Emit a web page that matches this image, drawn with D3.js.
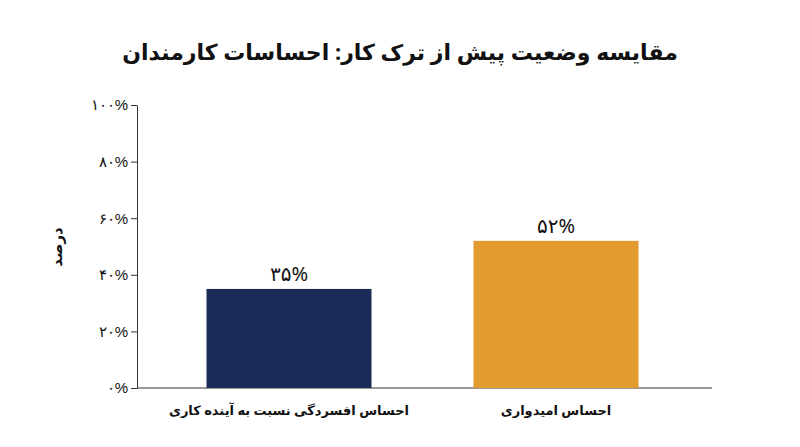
<!DOCTYPE html>
<html><head><meta charset="utf-8">
<script src="https://cdn.jsdelivr.net/npm/d3@7"></script>
<style>body{margin:0;background:#fff}svg{font-family:"Noto Sans","DejaVu Sans",sans-serif}</style>
</head><body><svg id="c" width="800" height="447"></svg>
<script>
const categories = ["احساس افسردگی نسبت به آینده کاری", "احساس امیدواری"];
const values = [35, 52];
const valueLabels = ["۳۵%", "۵۲%"];
const colors = ["#1b2b58", "#e19b2f"];
const tickValues = [0, 20, 40, 60, 80, 100];
const tickLabels = ["۰%", "۲۰%", "۴۰%", "۶۰%", "۸۰%", "۱۰۰%"];
const title = "مقایسه وضعیت پیش از ترک کار: احساسات کارمندان";
const yTitle = "درصد";

const svg = d3.select("#c");
const y = d3.scaleLinear().domain([0, 100]).range([388, 105]);
const x = d3.scaleBand().domain(categories).range([155.5, 689.5]).paddingInner(0.382).paddingOuter(0.191);

svg.append("text").attr("x", 400).attr("y", 60).attr("text-anchor", "middle")
  .attr("font-size", 22).attr("font-weight", "bold").attr("fill", "#111").text(title);

const ya = svg.append("g").attr("transform", "translate(137,0)")
  .call(d3.axisLeft(y).tickValues(tickValues).tickFormat((d, i) => tickLabels[i]).tickSize(6).tickSizeOuter(0));
ya.select(".domain").attr("stroke", "#333");
ya.selectAll("line").attr("stroke", "#333");
ya.selectAll("text").attr("font-size", 15).attr("fill", "#111");

svg.append("line").attr("x1", 137).attr("x2", 712).attr("y1", 388).attr("y2", 388).attr("stroke", "#333");

svg.append("text").attr("transform", "translate(62,247) rotate(-90)").attr("text-anchor", "middle")
  .attr("font-size", 15).attr("font-weight", "bold").attr("fill", "#111").text(yTitle);

svg.selectAll("rect.b").data(values).enter().append("rect")
  .attr("x", (d, i) => x(categories[i])).attr("width", x.bandwidth())
  .attr("y", d => y(d)).attr("height", d => y(0) - y(d)).attr("fill", (d, i) => colors[i]);

svg.selectAll("text.v").data(values).enter().append("text")
  .attr("x", (d, i) => x(categories[i]) + x.bandwidth() / 2).attr("y", d => y(d) - 8)
  .attr("text-anchor", "middle").attr("font-size", 20).attr("fill", "#111").text((d, i) => valueLabels[i]);

svg.selectAll("text.c").data(categories).enter().append("text")
  .attr("x", d => x(d) + x.bandwidth() / 2).attr("y", 415).attr("text-anchor", "middle")
  .attr("font-size", 13).attr("font-weight", "bold").attr("fill", "#111").text(d => d);
</script></body></html>
